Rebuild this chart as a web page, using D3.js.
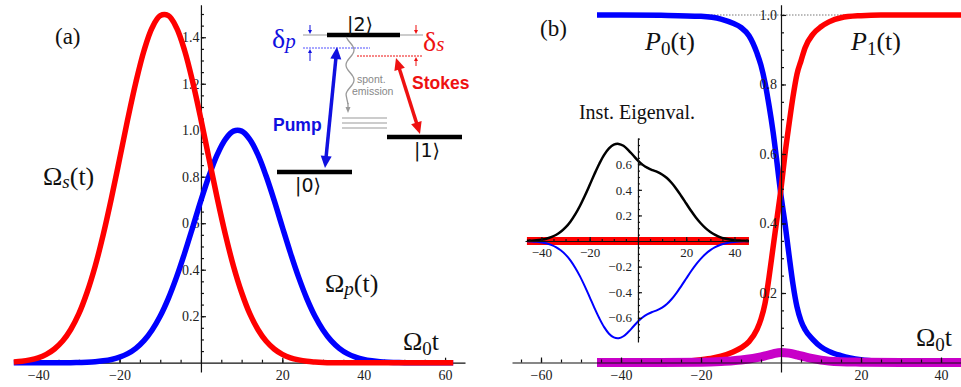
<!DOCTYPE html>
<html>
<head>
<meta charset="utf-8">
<script src="https://cdn.jsdelivr.net/npm/d3@7"></script>
<style>
  html, body { margin: 0; padding: 0; background: #fff; }
  svg { display: block; }
</style>
</head>
<body>
<div id="chart"></div>
<script>
const W = 961, H = 387;
const SERIF = "'Liberation Serif', 'Times New Roman', serif";

// panel (a): pump and Stokes envelopes vs Omega_0 t
const timeA = [-46, -44, -42, -40, -38, -36, -34, -32, -30, -28, -26, -24, -22, -20, -18, -16, -14, -12, -10, -8,
  -6, -4, -2, 0, 2, 4, 6, 8, 10, 12, 14, 16, 18, 20, 22, 24, 26, 28, 30, 32, 34, 36, 38, 40,
  42, 44, 46, 48, 50, 52, 54, 56, 58, 60, 62];
const omegaS = [0.003, 0.006, 0.012, 0.021, 0.036, 0.059, 0.093, 0.143, 0.211, 0.302, 0.415, 0.552, 0.708, 0.876, 1.047, 1.206, 1.342, 1.441, 1.493, 1.493,
  1.441, 1.342, 1.206, 1.047, 0.876, 0.708, 0.552, 0.415, 0.302, 0.211, 0.143, 0.093, 0.059, 0.036, 0.021, 0.012, 0.006, 0.003, 0.001, 0, 0, 0, 0, 0,
  0, 0, 0, 0, 0, 0, 0, 0, 0, 0, 0];
const omegaP = [0, 0, 0, 0, 0, 0, 0, 0, 0.001, 0.002, 0.004, 0.008, 0.014, 0.024, 0.039, 0.062, 0.095, 0.141, 0.201, 0.277,
  0.368, 0.472, 0.584, 0.698, 0.804, 0.895, 0.961, 0.996, 0.996, 0.961, 0.895, 0.804, 0.698, 0.584, 0.472, 0.368, 0.277, 0.201, 0.141, 0.095, 0.062, 0.039, 0.024, 0.014,
  0.008, 0.004, 0.002, 0.001, 0, 0, 0, 0, 0, 0, 0];
const xTicksA = [-40, -20, 20, 40, 60];
const yTicksA = [0.2, 0.4, 0.6, 0.8, 1.0, 1.2, 1.4];

// panel (b): populations
const timeP0 = [-46, -40, -30, -20, -15, -12, -10, -8, -6, -5, -4, -3, -2, -1, 0, 1, 2, 3, 4, 5, 6, 8, 10, 12, 15, 20, 25, 30, 45];
const pop0 = [1.0, 1.0, 0.999, 0.996, 0.988, 0.976, 0.964, 0.94, 0.89, 0.855, 0.805, 0.74, 0.665, 0.575, 0.48, 0.40, 0.31, 0.225, 0.16, 0.12, 0.095, 0.066, 0.045, 0.032, 0.02, 0.008, 0.003, 0.001, 0];
const timeP1 = [-46, -30, -25, -20, -17, -15, -12, -10, -8, -6, -5, -4, -3, -2, -1, 0, 1, 2, 3, 4, 5, 6, 8, 10, 12, 15, 20, 25, 45];
const pop1 = [0, 0.001, 0.003, 0.008, 0.013, 0.018, 0.03, 0.042, 0.06, 0.095, 0.125, 0.17, 0.245, 0.33, 0.415, 0.5, 0.6, 0.685, 0.765, 0.83, 0.868, 0.905, 0.945, 0.966, 0.98, 0.992, 0.998, 1.0, 1.0];
const timeP2 = [-46, -30, -20, -15, -12, -10, -8, -6, -4, -2, 0, 2, 4, 6, 8, 10, 12, 15, 20, 30, 45];
const pop2 = [0, 0, 0.001, 0.003, 0.005, 0.007, 0.01, 0.014, 0.019, 0.025, 0.029, 0.027, 0.022, 0.016, 0.011, 0.007, 0.004, 0.002, 0.001, 0, 0];
const xTicksB = [-60, -40, -20, 20, 40];
const yTicksB = [0.2, 0.4, 0.6, 0.8, 1.0];

// inset of panel (b): instantaneous eigenvalues
const timeE = [-46, -44, -42, -40, -38, -36, -34, -32, -30, -28, -26, -24, -22, -20, -18, -16, -14, -12, -10, -8, -6, -4, -2, 0,
  2, 4, 6, 8, 10, 12, 14, 16, 18, 20, 22, 24, 26, 28, 30, 32, 34, 36, 38, 40, 42, 44, 46];
const eigPlus = [0.002, 0.003, 0.006, 0.011, 0.018, 0.030, 0.047, 0.072, 0.106, 0.151, 0.208, 0.276, 0.354, 0.438, 0.524, 0.604, 0.673, 0.724, 0.753, 0.759, 0.744, 0.711, 0.670, 0.629,
  0.595, 0.571, 0.554, 0.540, 0.520, 0.492, 0.453, 0.405, 0.350, 0.293, 0.236, 0.184, 0.139, 0.101, 0.071, 0.048, 0.031, 0.020, 0.012, 0.007, 0.004, 0.002, 0.001];
const eigMinus = [-0.002, -0.003, -0.006, -0.011, -0.018, -0.030, -0.047, -0.072, -0.106, -0.151, -0.208, -0.276, -0.354, -0.438, -0.524, -0.604, -0.673, -0.724, -0.753, -0.759, -0.744, -0.711, -0.670, -0.629,
  -0.595, -0.571, -0.554, -0.540, -0.520, -0.492, -0.453, -0.405, -0.350, -0.293, -0.236, -0.184, -0.139, -0.101, -0.071, -0.048, -0.031, -0.020, -0.012, -0.007, -0.004, -0.002, -0.001];
const eigZero = [0, 0];
const timeZero = [-46, 46];
const xTicksE = [-40, -20, 20, 40];
const yTicksE = [-0.6, -0.4, -0.2, 0.2, 0.4, 0.6];

const svg = d3.select('#chart').append('svg').attr('width', W).attr('height', H);

function stepTicks(lo, hi, step) {
  const out = [];
  for (let v = lo; v <= hi + 1e-9; v += step) out.push(+v.toFixed(3));
  return out;
}

// Mathematica-like axes: ticks point inward, labels outside
function drawAxes(g, x, y, o) {
  const gx = g.append('g').attr('transform', 'translate(0,' + y(0) + ')');
  gx.call(d3.axisBottom(x).tickValues(o.xMinor).tickSize(-o.minor).tickSizeOuter(0).tickFormat(''));
  gx.append('g')
    .call(d3.axisBottom(x).tickValues(o.xMajor).tickSize(-o.major).tickPadding(o.xPad).tickFormat(d3.format('d')))
    .call(s => s.select('.domain').remove());

  const gy = g.append('g').attr('transform', 'translate(' + x(0) + ',0)');
  gy.call(d3.axisLeft(y).tickValues(o.yMinor).tickSize(-o.minor).tickSizeOuter(0).tickFormat(''));
  gy.append('g')
    .call(d3.axisLeft(y).tickValues(o.yMajor).tickSize(-o.major).tickPadding(o.yPad).tickFormat(d3.format('.1f')))
    .call(s => s.select('.domain').remove());

  [gx, gy].forEach(a => {
    a.attr('color', '#111');
    a.selectAll('line, path').attr('stroke-width', o.lw);
    a.selectAll('text').attr('fill', '#222').attr('font-family', SERIF).attr('font-size', o.font);
  });
}

function curve(x, y, smooth) {
  return d3.line().x(d => x(d[0])).y(d => y(d[1]))
    .curve(smooth ? d3.curveCatmullRom.alpha(0.5) : d3.curveMonotoneX);
}

function addText(g, x, y, size, parts, fill, family) {
  const t = g.append('text').attr('x', x).attr('y', y).attr('font-size', size)
    .attr('font-family', family || SERIF).attr('fill', fill || '#111');
  parts.forEach(p => {
    t.append('tspan').text(p.t)
      .attr('font-style', p.i ? 'italic' : null)
      .attr('font-size', p.s || null)
      .attr('dy', p.dy || null);
  });
  return t;
}

// ---------------- panel (a)
const xA = d3.scaleLinear().domain([-45.7, 64.9]).range([15, 465]);
const yA = d3.scaleLinear().domain([-0.04, 1.54]).range([372, 4.7]);
const gA = svg.append('g');

drawAxes(gA, xA, yA, {
  xMajor: xTicksA, xMinor: stepTicks(-45, 60, 5),
  yMajor: yTicksA, yMinor: stepTicks(0.05, 1.5, 0.05),
  major: 5, minor: 3, xPad: 7.5, yPad: 1.5, font: 14, lw: 1.2
});

gA.append('path').datum(d3.zip(timeA, omegaP))
  .attr('d', curve(xA, yA, true)).attr('fill', 'none').attr('stroke', '#0000ff').attr('stroke-width', 5.5);
gA.append('path').datum(d3.zip(timeA, omegaS))
  .attr('d', curve(xA, yA, true)).attr('fill', 'none').attr('stroke', '#ff0000').attr('stroke-width', 5.5);

addText(gA, 55, 44, 23, [{ t: '(a)' }]);
addText(gA, 43, 185, 26, [{ t: 'Ω' }, { t: 's', i: true, s: 19, dy: 3 }, { t: '(t)', dy: -3 }]);
addText(gA, 325, 292, 26, [{ t: 'Ω' }, { t: 'p', i: true, s: 19, dy: 3 }, { t: '(t)', dy: -3 }]);
addText(gA, 403, 350, 26, [{ t: 'Ω' }, { t: '0', s: 19, dy: 5 }, { t: 't', dy: -5 }]);

// level scheme inset of panel (a)
const SANS = "'Liberation Sans', Arial, sans-serif";
const sch = svg.append('g');
const BLUE = '#1010e0', RED = '#ee1111';

function arrow(g, x1, y1, x2, y2, color, w, hl, hw, both) {
  const a = Math.atan2(y2 - y1, x2 - x1);
  const head = (x, y, ang) => {
    const bx = x - hl * Math.cos(ang), by = y - hl * Math.sin(ang);
    const px = -Math.sin(ang) * hw / 2, py = Math.cos(ang) * hw / 2;
    g.append('path').attr('d', 'M' + x + ',' + y + 'L' + (bx + px) + ',' + (by + py) + 'L' + (bx - px) + ',' + (by - py) + 'Z')
      .attr('fill', color);
  };
  const k = hl * 0.8;
  g.append('line')
    .attr('x1', both ? x1 + k * Math.cos(a) : x1).attr('y1', both ? y1 + k * Math.sin(a) : y1)
    .attr('x2', x2 - k * Math.cos(a)).attr('y2', y2 - k * Math.sin(a))
    .attr('stroke', color).attr('stroke-width', w);
  head(x2, y2, a);
  if (both) head(x1, y1, a + Math.PI);
}

sch.append('line').attr('x1', 303).attr('x2', 423).attr('y1', 35).attr('y2', 35).attr('stroke', '#999').attr('stroke-width', 1);
sch.append('line').attr('x1', 303).attr('x2', 370).attr('y1', 48).attr('y2', 48).attr('stroke', '#5050ff').attr('stroke-width', 1).attr('stroke-dasharray', '2,1');
sch.append('line').attr('x1', 357).attr('x2', 423).attr('y1', 56).attr('y2', 56).attr('stroke', RED).attr('stroke-width', 1).attr('stroke-dasharray', '2,1');
[[327, 400, 35], [387, 462, 137], [277, 352, 172]].forEach(b => {
  sch.append('line').attr('x1', b[0]).attr('x2', b[1]).attr('y1', b[2]).attr('y2', b[2]).attr('stroke', '#000').attr('stroke-width', 4.5);
});
arrow(sch, 310, 25, 310, 34, BLUE, 1, 4, 4, false);
arrow(sch, 310, 61, 310, 49, BLUE, 1, 4, 4, false);
arrow(sch, 416, 25, 416, 34, RED, 1, 4, 4, false);
arrow(sch, 416, 66, 416, 57, RED, 1, 4, 4, false);

// spontaneous emission wiggle
const wave = [];
for (let yy = 37; yy <= 95; yy += 1) wave.push([350 - 4 * Math.cos(Math.PI * (yy - 35) / 15), yy]);
wave.push([348, 104]);
sch.append('path').attr('d', d3.line().curve(d3.curveBasis)(wave)).attr('fill', 'none').attr('stroke', '#999').attr('stroke-width', 1.3);
arrow(sch, 348, 103, 348, 113, '#999', 1.3, 6, 5, false);
[118, 123, 128].forEach(yy => {
  sch.append('line').attr('x1', 342).attr('x2', 387).attr('y1', yy).attr('y2', yy).attr('stroke', '#999').attr('stroke-width', 1.2);
});

arrow(sch, 396, 58, 420, 134, RED, 3.5, 12, 11, true);
arrow(sch, 337, 47, 325, 168, BLUE, 3.5, 12, 11, true);

const KET = "'DejaVu Sans', 'Liberation Sans', sans-serif";
addText(sch, 347, 31, 19, [{ t: '|2⟩' }], '#111', KET);
addText(sch, 414, 157, 19, [{ t: '|1⟩' }], '#111', KET);
addText(sch, 295, 192, 19, [{ t: '|0⟩' }], '#111', KET);
addText(sch, 357, 83, 10.5, [{ t: 'spont.' }], '#888', SANS);
addText(sch, 352, 95, 10.5, [{ t: 'emission' }], '#888', SANS);
addText(sch, 412, 89, 17.5, [{ t: 'Stokes' }], RED, SANS).attr('font-weight', 'bold');
addText(sch, 273, 131, 17.5, [{ t: 'Pump' }], BLUE, SANS).attr('font-weight', 'bold');
addText(sch, 272, 48, 28, [{ t: 'δ' }, { t: 'p', i: true, s: 21 }], BLUE);
addText(sch, 423, 51, 28, [{ t: 'δ' }, { t: 's', i: true, s: 21 }], RED);

// ---------------- panel (b)
const xB = d3.scaleLinear().domain([-67.25, 45.25]).range([512, 962]);
const yB = d3.scaleLinear().domain([-0.0273, 1.0295]).range([372, 4.7]);
const gB = svg.append('g');

gB.append('line')
  .attr('x1', xB(-46)).attr('x2', xB(45)).attr('y1', yB(1)).attr('y2', yB(1))
  .attr('stroke', '#bbb').attr('stroke-width', 2).attr('stroke-dasharray', '1.5,1.5');

gB.append('path').datum(d3.zip(timeP0, pop0))
  .attr('d', curve(xB, yB)).attr('fill', 'none').attr('stroke', '#0000ff').attr('stroke-width', 5.5);
gB.append('path').datum(d3.zip(timeP1, pop1))
  .attr('d', curve(xB, yB)).attr('fill', 'none').attr('stroke', '#ff0000').attr('stroke-width', 5.5);
gB.append('path').datum(d3.zip(timeP2, pop2))
  .attr('d', curve(xB, yB)).attr('fill', 'none').attr('stroke', '#c800c8').attr('stroke-width', 9);

drawAxes(gB, xB, yB, {
  xMajor: xTicksB, xMinor: stepTicks(-65, 45, 5),
  yMajor: yTicksB, yMinor: stepTicks(0.05, 1.0, 0.05),
  major: 5, minor: 3, xPad: 7.5, yPad: 4, font: 14, lw: 1.2
});

addText(gB, 540, 36, 23, [{ t: '(b)' }]);
addText(gB, 645, 50, 26, [{ t: 'P', i: true }, { t: '0', s: 19, dy: 5 }, { t: '(t)', dy: -5 }]);
addText(gB, 851, 50, 26, [{ t: 'P', i: true }, { t: '1', s: 19, dy: 5 }, { t: '(t)', dy: -5 }]);
addText(gB, 916, 346, 26, [{ t: 'Ω' }, { t: '0', s: 19, dy: 5 }, { t: 't', dy: -5 }]);

// inset: instantaneous eigenvalues
const xE = d3.scaleLinear().domain([-46.8, 45.6]).range([525, 748]);
const yE = d3.scaleLinear().domain([-0.789, 0.805]).range([342, 138]);
const gE = svg.append('g');

gE.append('path').datum(d3.zip(timeZero, eigZero))
  .attr('d', curve(xE, yE)).attr('fill', 'none').attr('stroke', '#ff0000').attr('stroke-width', 8);
gE.append('path').datum(d3.zip(timeE, eigMinus))
  .attr('d', curve(xE, yE, true)).attr('fill', 'none').attr('stroke', '#0000ff').attr('stroke-width', 2);
gE.append('path').datum(d3.zip(timeE, eigPlus))
  .attr('d', curve(xE, yE, true)).attr('fill', 'none').attr('stroke', '#000').attr('stroke-width', 2.5);

drawAxes(gE, xE, yE, {
  xMajor: xTicksE, xMinor: stepTicks(-45, 45, 5),
  yMajor: yTicksE, yMinor: stepTicks(-0.75, 0.8, 0.05),
  major: 4, minor: 2, xPad: 7, yPad: 6, font: 13, lw: 1.2
});

addText(gE, 637, 119, 20, [{ t: 'Inst. Eigenval.' }]).attr('text-anchor', 'middle');
</script>
</body>
</html>
